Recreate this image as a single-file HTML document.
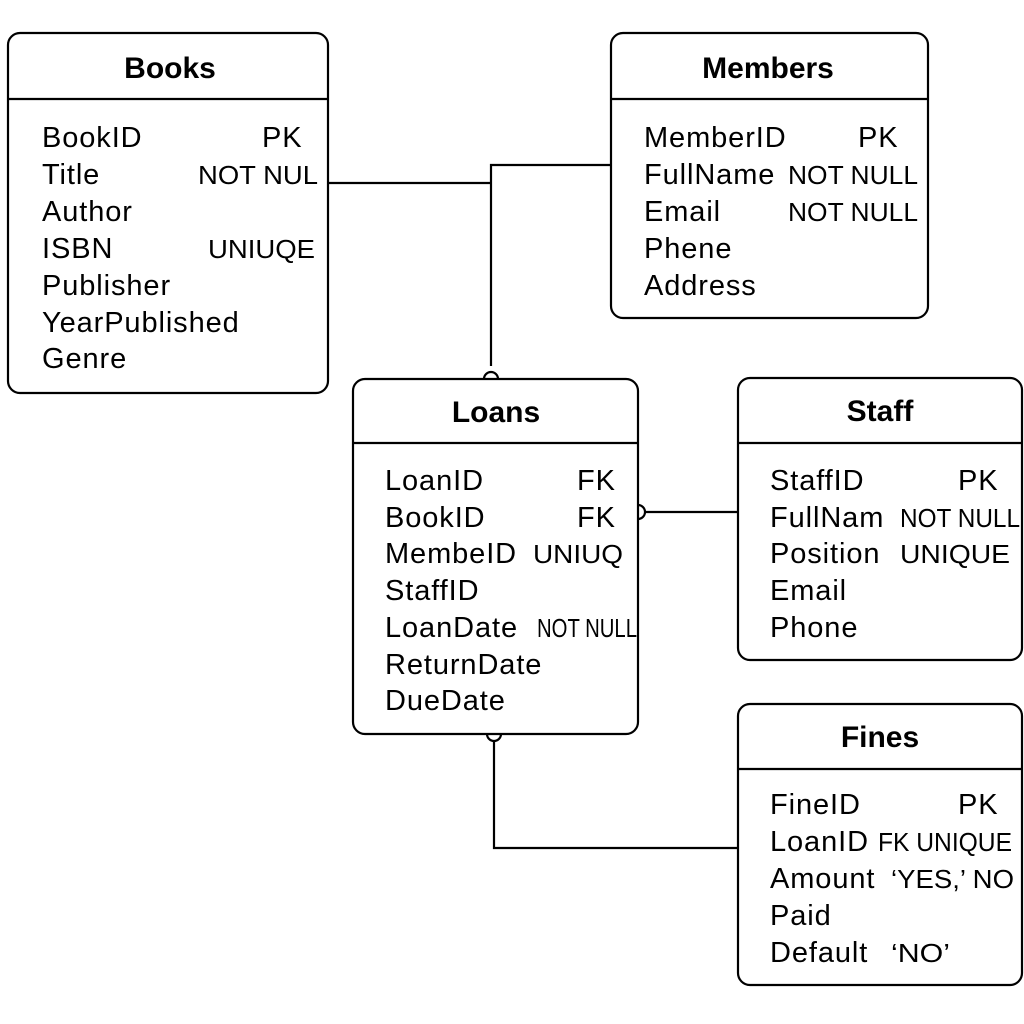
<!DOCTYPE html>
<html><head><meta charset="utf-8"><style>
html,body{margin:0;padding:0;background:#fff}
svg{display:block}
text{font-family:"Liberation Sans",Arial,sans-serif;fill:#000}
.t{font-weight:bold;font-size:30px}
.r{font-size:29px;letter-spacing:0.9px}
.s{font-size:26px;letter-spacing:0}
</style></head><body>
<svg width="1024" height="1024" viewBox="0 0 1024 1024">
<g fill="none" stroke="#000" stroke-width="2.2">
<rect x="8" y="33" width="320" height="360" rx="12"/>
<line x1="8" y1="99" x2="328" y2="99"/>
<rect x="611" y="33" width="317" height="285" rx="12"/>
<line x1="611" y1="99" x2="928" y2="99"/>
<rect x="353" y="379" width="285" height="355" rx="12"/>
<line x1="353" y1="443" x2="638" y2="443"/>
<rect x="738" y="378" width="284" height="282" rx="12"/>
<line x1="738" y1="443" x2="1022" y2="443"/>
<rect x="738" y="704" width="284" height="281" rx="12"/>
<line x1="738" y1="769" x2="1022" y2="769"/>
<polyline points="328,183 491,183"/>
<polyline points="611,165 491,165 491,366"/>
<path d="M484,379 A7,7 0 0 1 498,379"/>
<path d="M638,505 A7,7 0 0 1 638,519"/>
<line x1="645" y1="512" x2="738" y2="512"/>
<path d="M487,734 A7,7 0 0 0 501,734"/>
<polyline points="494,741 494,848 738,848"/>
</g>
<text class="t" x="170" y="78" text-anchor="middle">Books</text>
<text class="t" x="768" y="78" text-anchor="middle">Members</text>
<text class="t" x="496" y="422" text-anchor="middle">Loans</text>
<text class="t" x="880" y="421" text-anchor="middle">Staff</text>
<text class="t" x="880" y="747" text-anchor="middle">Fines</text>
<g class="r">
<text x="42" y="147">BookID</text><text x="262" y="147">PK</text>
<text x="42" y="184">Title</text><text x="198" y="184" textLength="120" lengthAdjust="spacingAndGlyphs" class="s">NOT NUL</text>
<text x="42" y="221">Author</text>
<text x="42" y="258">ISBN</text><text x="208" y="258" textLength="107" lengthAdjust="spacingAndGlyphs" class="s">UNIUQE</text>
<text x="42" y="295">Publisher</text>
<text x="42" y="332">YearPublished</text>
<text x="42" y="368">Genre</text>

<text x="644" y="147">MemberID</text><text x="858" y="147">PK</text>
<text x="644" y="184">FullName</text><text x="788" y="184" textLength="130" lengthAdjust="spacingAndGlyphs" class="s">NOT NULL</text>
<text x="644" y="221">Email</text><text x="788" y="221" textLength="130" lengthAdjust="spacingAndGlyphs" class="s">NOT NULL</text>
<text x="644" y="258">Phene</text>
<text x="644" y="295">Address</text>

<text x="385" y="490">LoanID</text><text x="577" y="490">FK</text>
<text x="385" y="527">BookID</text><text x="577" y="527">FK</text>
<text x="385" y="563">MembeID</text><text x="533" y="563" textLength="90" lengthAdjust="spacingAndGlyphs" class="s">UNIUQ</text>
<text x="385" y="600">StaffID</text>
<text x="385" y="637">LoanDate</text><text x="537" y="637" textLength="100" lengthAdjust="spacingAndGlyphs" class="s">NOT NULL</text>
<text x="385" y="674">ReturnDate</text>
<text x="385" y="710">DueDate</text>

<text x="770" y="490">StaffID</text><text x="958" y="490">PK</text>
<text x="770" y="527">FullNam</text><text x="900" y="527" textLength="120" lengthAdjust="spacingAndGlyphs" class="s">NOT NULL</text>
<text x="770" y="563">Position</text><text x="900" y="563" textLength="110" lengthAdjust="spacingAndGlyphs" class="s">UNIQUE</text>
<text x="770" y="600">Email</text>
<text x="770" y="637">Phone</text>

<text x="770" y="814">FineID</text><text x="958" y="814">PK</text>
<text x="770" y="851">LoanID</text><text x="878" y="851" textLength="134" lengthAdjust="spacingAndGlyphs" class="s">FK UNIQUE</text>
<text x="770" y="888">Amount</text><text x="891" y="888" textLength="123" lengthAdjust="spacingAndGlyphs" class="s">‘YES,’ NO</text>
<text x="770" y="925">Paid</text>
<text x="770" y="962">Default</text><text x="891" y="962" textLength="59" lengthAdjust="spacingAndGlyphs" class="s">‘NO’</text>
</g>
</svg>
</body></html>
